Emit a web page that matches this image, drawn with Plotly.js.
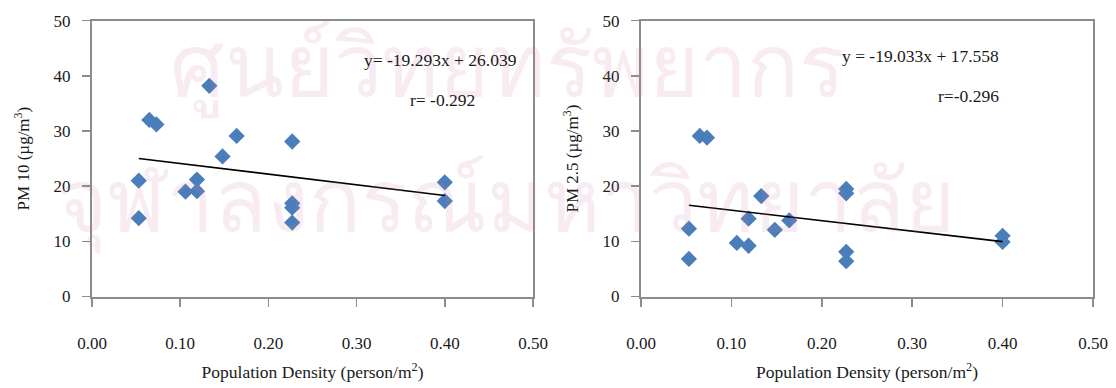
<!DOCTYPE html>
<html>
<head>
<meta charset="utf-8">
<script src="https://cdn.plot.ly/plotly-3.0.1.min.js"></script>
<style>
  html, body { margin: 0; padding: 0; background: #ffffff; }
  #chart { width: 1116px; height: 388px; }
</style>
</head>
<body>
<div id="chart"></div>
<script>
// Population density of each sampling site (person/m2)
const density = [0.053, 0.053, 0.065, 0.073, 0.106, 0.119, 0.119, 0.133, 0.148, 0.164, 0.227, 0.227, 0.227, 0.227, 0.400, 0.400];
// Measured concentrations (µg/m3)
const pm10 = [21.0, 14.2, 32.0, 31.2, 19.0, 21.2, 19.1, 38.2, 25.4, 29.1, 28.1, 16.9, 16.1, 13.4, 20.7, 17.3];
const pm25 = [12.3, 6.8, 29.1, 28.8, 9.7, 14.1, 9.2, 18.2, 12.1, 13.8, 19.5, 18.7, 8.1, 6.4, 11.0, 9.9];

// Linear fits  y = slope * x + intercept
const fit10 = { slope: -19.293, intercept: 26.039, r: -0.292 };
const fit25 = { slope: -19.033, intercept: 17.558, r: -0.296 };

const xTicks = [0, 0.1, 0.2, 0.3, 0.4, 0.5];
const xTickText = ["0.00", "0.10", "0.20", "0.30", "0.40", "0.50"];
const yTicks = [0, 10, 20, 30, 40, 50];

const xMin = Math.min(...density);
const xMax = Math.max(...density);
function fitLine(fit) {
  return [fit.slope * xMin + fit.intercept, fit.slope * xMax + fit.intercept];
}

const serif = "Liberation Serif, Times New Roman, serif";
const ink = "#1a1a1a";
const markerStyle = { symbol: "diamond", size: 12.5, color: "#4a7ebb", line: { width: 0 } };

const traces = [
  { x: density, y: pm10, type: "scatter", mode: "markers", marker: markerStyle, xaxis: "x", yaxis: "y" },
  { x: [xMin, xMax], y: fitLine(fit10), type: "scatter", mode: "lines", line: { color: "#000000", width: 1.6 }, xaxis: "x", yaxis: "y" },
  { x: density, y: pm25, type: "scatter", mode: "markers", marker: markerStyle, xaxis: "x2", yaxis: "y2" },
  { x: [xMin, xMax], y: fitLine(fit25), type: "scatter", mode: "lines", line: { color: "#000000", width: 1.6 }, xaxis: "x2", yaxis: "y2" }
];

const W = 1116, H = 388;
const axisColor = "#8c8c8c";

function xAxis(domain, anchor) {
  return {
    domain: domain, anchor: anchor, range: [0, 0.5],
    tickmode: "array", tickvals: xTicks, ticktext: xTickText,
    ticks: "outside", ticklen: 8, tickwidth: 1.5, tickcolor: axisColor,
    showline: true, linecolor: axisColor, linewidth: 2, mirror: true,
    showgrid: false, zeroline: false,
    ticklabelstandoff: 22,
    tickfont: { family: serif, size: 17, color: ink },
    title: { text: "Population Density (person/m<sup>2</sup>)", font: { family: serif, size: 17.5, color: ink }, standoff: 14 }
  };
}
function yAxis(domain, anchor, label) {
  return {
    domain: domain, anchor: anchor, range: [0, 50],
    tickmode: "array", tickvals: yTicks,
    ticks: "outside", ticklen: 8, tickwidth: 1.5, tickcolor: axisColor,
    showline: true, linecolor: axisColor, linewidth: 2, mirror: true,
    showgrid: false, zeroline: false,
    ticklabelstandoff: 8,
    tickfont: { family: serif, size: 17, color: ink },
    title: { text: label, font: { family: serif, size: 17, color: ink }, standoff: 20 }
  };
}

const yDom = [(H - 296.5) / H, (H - 20.7) / H];
const markFont = { family: "Noto Sans, DejaVu Sans, sans-serif", size: 86, color: "rgba(205,120,165,0.14)" };

const layout = {
  width: W, height: H,
  margin: { l: 0, r: 0, t: 0, b: 0 },
  paper_bgcolor: "#ffffff", plot_bgcolor: "rgba(0,0,0,0)",
  showlegend: false,
  xaxis: xAxis([92 / W, 533 / W], "y"),
  yaxis: yAxis(yDom, "x", "PM 10 (µg/m<sup>3</sup>)"),
  xaxis2: xAxis([641 / W, 1093 / W], "y2"),
  yaxis2: yAxis(yDom, "x2", "PM 2.5 (µg/m<sup>3</sup>)"),
  annotations: [
    // library watermark behind the charts
    { xref: "paper", yref: "paper", x: 507 / W, y: (H - 2) / H, yanchor: "top", showarrow: false,
      text: "ศูนย์วิทยทรัพยากร", font: markFont },
    { xref: "paper", yref: "paper", x: 506 / W, y: (H - 137) / H, yanchor: "top", showarrow: false,
      text: "จุฬาลงกรณ์มหาวิทยาลัย", font: markFont },
    { xref: "paper", yref: "paper", x: 440 / W, y: (H - 48) / H, showarrow: false,
      text: "y= " + fit10.slope.toFixed(3) + "x + " + fit10.intercept.toFixed(3), font: { family: serif, size: 17.5, color: ink } },
    { xref: "paper", yref: "paper", x: 442 / W, y: (H - 88) / H, showarrow: false,
      text: "r= " + fit10.r.toFixed(3), font: { family: serif, size: 17.5, color: ink } },
    { xref: "paper", yref: "paper", x: 1001 / W, y: (H - 44) / H, showarrow: false,
      text: "y = " + fit25.slope.toFixed(3) + "x + " + fit25.intercept.toFixed(3), font: { family: serif, size: 17.5, color: ink } },
    { xref: "paper", yref: "paper", x: 1001 / W, y: (H - 84) / H, showarrow: false,
      text: "r=" + fit25.r.toFixed(3), font: { family: serif, size: 17.5, color: ink } }
  ]
};

Plotly.newPlot("chart", traces, layout, { displayModeBar: false, staticPlot: true });
</script>
</body>
</html>
